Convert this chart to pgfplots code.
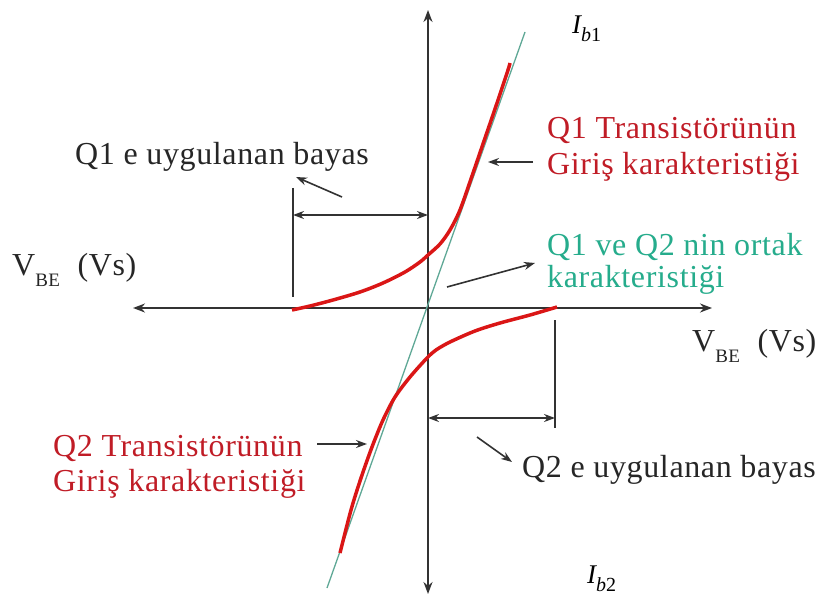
\documentclass[border=0pt]{standalone}
\usepackage{fontspec}
\setmainfont{Liberation Serif}
\usepackage{pgfplots}
\pgfplotsset{compat=1.18}
\usetikzlibrary{arrows.meta}
\definecolor{curvered}{RGB}{218,22,22}
\definecolor{textred}{RGB}{192,28,38}
\definecolor{tealtxt}{RGB}{38,172,140}
\definecolor{tealline}{RGB}{95,168,150}
\definecolor{axgray}{RGB}{50,50,50}
\begin{document}
\begin{tikzpicture}
\begin{axis}[name=ax,
  width=825pt, height=602pt, scale only axis,
  xmin=0, xmax=825, ymin=0, ymax=602, y dir=reverse,
  hide axis, clip=false,
]
% axes
\addplot[axgray, line width=1.8pt, {Stealth[length=12pt,width=9pt]}-{Stealth[length=12pt,width=9pt]}] coordinates {(133,308) (712,308)};
\addplot[axgray, line width=1.8pt, {Stealth[length=12pt,width=9pt]}-{Stealth[length=12pt,width=9pt]}] coordinates {(428,594) (428,10)};
% common characteristic (green line)
\addplot[tealline, line width=1.3pt] coordinates {(327,588) (525,32)};
% Q1 input characteristic
\addplot[curvered, line width=3.5pt, smooth] coordinates {
(292,310) (310,306) (333,300) (360,292) (383,283) (405,272) (420,262) (428,255) (440,244) (450,230) (460,210) (472,176) (484,141) (496,106) (508,70) (510,63)};
% Q2 input characteristic
\addplot[curvered, line width=3.5pt, smooth] coordinates {
(557,307) (530,315) (500,323) (475,331) (450,342) (436,350) (427,358) (410,377) (395,397) (383,420) (372,447) (361,478) (351,510) (340,553)};
% Q1 bias bracket
\addplot[axgray, line width=1.8pt] coordinates {(293,188) (293,297)};
\addplot[axgray, line width=1.8pt, {Stealth[length=11pt,width=8pt]}-{Stealth[length=11pt,width=8pt]}] coordinates {(293,215) (428,215)};
\addplot[axgray, line width=1.6pt, -{Stealth[length=11pt,width=8pt]}] coordinates {(342,197) (296,177)};
% Q2 bias bracket
\addplot[axgray, line width=1.8pt] coordinates {(555,320) (555,428)};
\addplot[axgray, line width=1.8pt, {Stealth[length=11pt,width=8pt]}-{Stealth[length=11pt,width=8pt]}] coordinates {(428,418) (555,418)};
\addplot[axgray, line width=1.6pt, -{Stealth[length=11pt,width=8pt]}] coordinates {(477,437) (512,462)};
% pointer arrows
\addplot[axgray, line width=1.6pt, -{Stealth[length=11pt,width=8pt]}] coordinates {(533,162) (488,162)};
\addplot[axgray, line width=1.6pt, -{Stealth[length=11pt,width=8pt]}] coordinates {(447,287) (535,263)};
\addplot[axgray, line width=1.6pt, -{Stealth[length=11pt,width=8pt]}] coordinates {(317,444) (367,444)};
% texts
\fontsize{32}{36}\selectfont\addfontfeatures{LetterSpace=2}
\node[anchor=west, inner sep=0pt, text=black!85] at (axis cs:75,157) {Q1 e uygulanan bayas};
\node[anchor=west, inner sep=0pt, text=black!85] at (axis cs:522,470) {Q2 e uygulanan bayas};
\node[anchor=west, inner sep=0pt, text=textred] at (axis cs:547,131) {Q1 Transistörünün};
\node[anchor=west, inner sep=0pt, text=textred] at (axis cs:547,167) {Giriş karakteristiği};
\node[anchor=west, inner sep=0pt, text=tealtxt] at (axis cs:547,247) {Q1 ve Q2 nin ortak};
\node[anchor=west, inner sep=0pt, text=tealtxt] at (axis cs:547,280) {karakteristiği};
\node[anchor=west, inner sep=0pt, text=textred] at (axis cs:53,448) {Q2 Transistörünün};
\node[anchor=west, inner sep=0pt, text=textred] at (axis cs:53,484) {Giriş karakteristiği};
\node[anchor=west, inner sep=0pt, text=black!85] at (axis cs:12,270) {V\raisebox{-0.35em}{\fontsize{19}{19}\selectfont BE}\hspace{0.55em}(Vs)};
\node[anchor=west, inner sep=0pt, text=black!85] at (axis cs:692,346) {V\raisebox{-0.35em}{\fontsize{19}{19}\selectfont BE}\hspace{0.55em}(Vs)};
\node[anchor=west, inner sep=0pt] at (axis cs:572,29) {\fontsize{27}{30}\selectfont\itshape I\raisebox{-0.3em}{\fontsize{20}{20}\selectfont b\upshape 1}};
\node[anchor=west, inner sep=0pt] at (axis cs:587,579) {\fontsize{27}{30}\selectfont\itshape I\raisebox{-0.3em}{\fontsize{20}{20}\selectfont b\upshape 2}};
\end{axis}
\pgfresetboundingbox
\path (ax.south west) rectangle (ax.north east);
\end{tikzpicture}
\end{document}
